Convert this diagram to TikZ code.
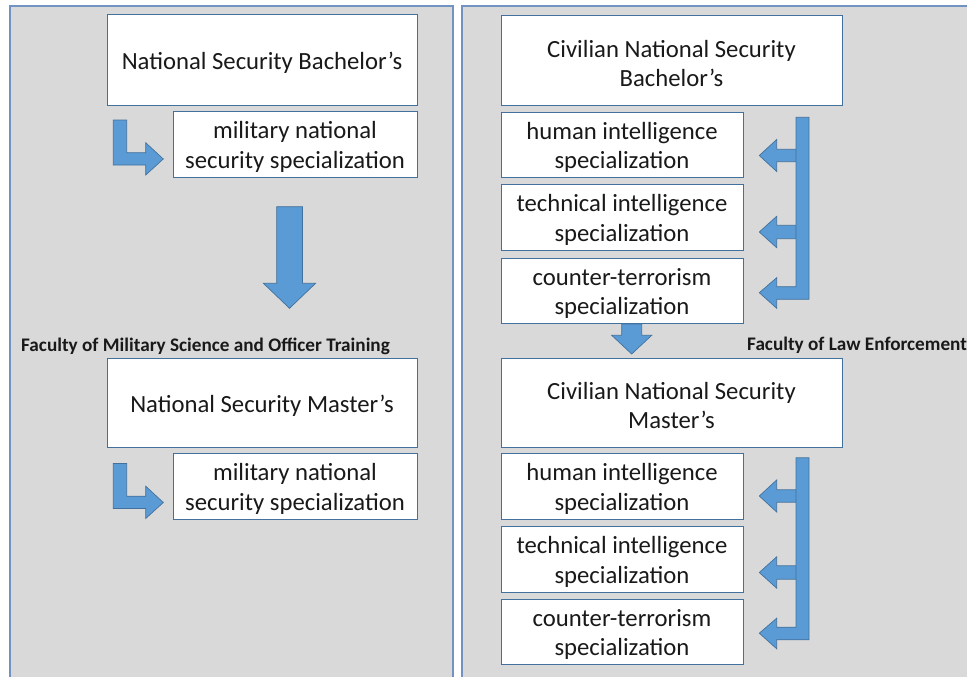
\documentclass[tikz,border=0pt]{standalone}
\usepackage{fontspec}
\setmainfont{Carlito}
\definecolor{panelfill}{HTML}{D9D9D9}
\definecolor{panelline}{HTML}{7293C2}
\definecolor{boxline}{HTML}{41719C}
\definecolor{arrowfill}{HTML}{5B9BD5}
\tikzset{
  panel/.style={fill=panelfill, draw=panelline, line width=1.2pt},
  box/.style={draw=boxline, fill=white, line width=1pt, inner sep=0pt},
  boxtext/.style={align=center, inner sep=0pt, yshift=-2.8pt,
    text=black!90, font=\fontsize{24.7}{29.3}\selectfont},
  blockarrow/.style={fill=arrowfill, draw=boxline, line width=0.7pt, line join=miter},
  faculty/.style={font=\fontsize{19.2}{23}\selectfont\bfseries, inner sep=0pt, anchor=west, text=black!90}
}
\begin{document}
\begin{tikzpicture}[x=1pt,y=-1pt]
\useasboundingbox (0,0) rectangle (967,677);
\clip (0,0) rectangle (967,677);
\fill[white] (0,0) rectangle (967,677);
% panels
\draw[panel] (10,6) rectangle (453,690);
\draw[panel] (462,6) rectangle (980,690);

% left column
\node[box, minimum width=310pt, minimum height=90pt,
  label={[boxtext]center:National Security Bachelor’s}] (lbach) at (262,60) {};
\node[box, minimum width=244pt, minimum height=66pt,
  label={[boxtext]center:military national\\security specialization}] (lbspec) at (295,144) {};
\node[box, minimum width=310pt, minimum height=89pt,
  label={[boxtext]center:National Security Master’s}] (lmast) at (262,402.5) {};
\node[box, minimum width=244pt, minimum height=66pt,
  label={[boxtext]center:military national\\security specialization}] (lmspec) at (295,486) {};
\node[faculty] (fmil) at (21,346) {Faculty of Military Science and Officer Training};

% left bent arrows
\draw[blockarrow] (113.3,120) -- (126.7,120) -- (126.7,152.7) -- (145.7,152.7) -- (145.7,142.7)
  -- (163.3,159) -- (145.7,175) -- (145.7,165) -- (113.3,165) -- cycle;
\begin{scope}[shift={(0,343.5)}]
\draw[blockarrow] (113.3,120) -- (126.7,120) -- (126.7,152.7) -- (145.7,152.7) -- (145.7,142.7)
  -- (163.3,159) -- (145.7,175) -- (145.7,165) -- (113.3,165) -- cycle;
\end{scope}
% left down arrow
\draw[blockarrow] (276.7,206.7) -- (302.5,206.7) -- (302.5,283.3) -- (315.6,283.3) -- (289.5,308.3)
  -- (263.4,283.3) -- (276.7,283.3) -- cycle;

% right column
\node[box, minimum width=341pt, minimum height=89pt,
  label={[boxtext]center:Civilian National Security\\Bachelor’s}] (rbach) at (671.5,60.5) {};
\node[box, minimum width=242pt, minimum height=65pt,
  label={[boxtext]center:human intelligence\\specialization}] (rbh) at (622,144.5) {};
\node[box, minimum width=242pt, minimum height=66pt,
  label={[boxtext]center:technical intelligence\\specialization}] (rbt) at (622,217) {};
\node[box, minimum width=242pt, minimum height=65pt,
  label={[boxtext]center:counter-terrorism\\specialization}] (rbc) at (622,290.5) {};
\node[box, minimum width=341pt, minimum height=89pt,
  label={[boxtext]center:Civilian National Security\\Master’s}] (rmast) at (671.5,402.5) {};
\node[box, minimum width=242pt, minimum height=66pt,
  label={[boxtext]center:human intelligence\\specialization}] (rmh) at (622,486) {};
\node[box, minimum width=242pt, minimum height=66pt,
  label={[boxtext]center:technical intelligence\\specialization}] (rmt) at (622,559) {};
\node[box, minimum width=242pt, minimum height=65pt,
  label={[boxtext]center:counter-terrorism\\specialization}] (rmc) at (622,631.5) {};
\node[faculty] (flaw) at (747,345) {Faculty of Law Enforcement};

% right down arrow
\draw[blockarrow] (621.7,324) -- (641.7,324) -- (641.7,335.3) -- (651.7,335.3) -- (631.7,354)
  -- (611.7,335.3) -- (621.7,335.3) -- cycle;

% branching arrows
\foreach \dy in {0,340.5}{
\begin{scope}[shift={(0,\dy)}]
\draw[blockarrow] (800,149.3) -- (776.7,149.3) -- (776.7,139.5) -- (759.3,155.5) -- (776.7,171.5)
  -- (776.7,161.7) -- (800,161.7) -- cycle;
\draw[blockarrow] (800,225.3) -- (776.7,225.3) -- (776.7,216.3) -- (759.3,232) -- (776.7,247.7)
  -- (776.7,238.7) -- (800,238.7) -- cycle;
\draw[blockarrow] (796,117.3) -- (809,117.3) -- (809,299.3) -- (776.7,299.3) -- (776.7,308.3)
  -- (759.3,292.7) -- (776.7,277.7) -- (776.7,286.7) -- (796,286.7) -- cycle;
\end{scope}
}
\end{tikzpicture}
\end{document}
